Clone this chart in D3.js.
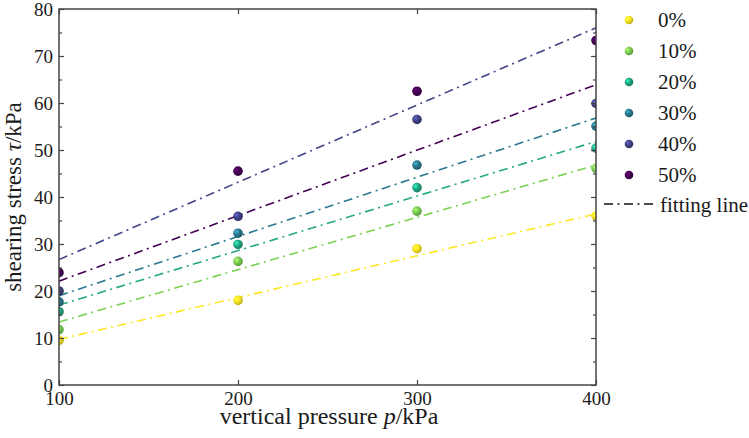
<!DOCTYPE html>
<html><head><meta charset="utf-8">
<script src="https://cdn.jsdelivr.net/npm/d3@7"></script>
<style>body{margin:0;background:#fff}svg{display:block}text{font-family:"Liberation Serif","Times New Roman",serif;fill:#1a1a1a}</style>
</head><body><svg id="c" width="749" height="438"></svg>
<script>
const pressures = [100, 200, 300, 400];
const groups = ["0%", "10%", "20%", "30%", "40%", "50%"];
const colors = ["#fde725", "#7ad151", "#22a884", "#2a788e", "#414487", "#440154"];
const tau0 = [9.5, 18.0, 29.0, 36.0];
const tau10 = [11.8, 26.3, 37.0, 46.1];
const tau20 = [15.6, 29.9, 42.0, 50.4];
const tau30 = [17.7, 32.3, 46.8, 55.1];
const tau40 = [20.0, 35.9, 56.5, 59.9];
const tau50 = [23.9, 45.5, 62.5, 73.3];
const fitAt100 = [9.7, 13.4, 17.0, 19.0, 26.7, 22.1];
const fitAt400 = [36.4, 46.8, 51.8, 56.8, 76.0, 63.9];
const yTicks = [0, 10, 20, 30, 40, 50, 60, 70, 80];
const xTicks = [100, 200, 300, 400];
const series = [tau0, tau10, tau20, tau30, tau40, tau50];

const svg = d3.select("#c");
const L = 59, R = 596, T = 9, B = 385;
const x = d3.scaleLinear().domain([100, 400]).range([L, R]);
const y = d3.scaleLinear().domain([0, 80]).range([B, T]);
const dash = "9,4.5,2,4.5";

const defs = svg.append("defs");
defs.append("clipPath").attr("id", "clip").append("rect")
  .attr("x", L).attr("y", T).attr("width", R - L).attr("height", B - T);
colors.forEach((c, i) => {
  const g = defs.append("radialGradient").attr("id", "g" + i)
    .attr("cx", "35%").attr("cy", "35%").attr("r", "65%");
  g.append("stop").attr("offset", "0%").attr("stop-color", d3.color(c).brighter(1.2));
  g.append("stop").attr("offset", "45%").attr("stop-color", c);
  g.append("stop").attr("offset", "100%").attr("stop-color", d3.color(c).darker(0.8));
});

const plot = svg.append("g").attr("clip-path", "url(#clip)");
groups.forEach((gname, i) => {
  plot.append("line")
    .attr("x1", x(100)).attr("y1", y(fitAt100[i]))
    .attr("x2", x(400)).attr("y2", y(fitAt400[i]))
    .attr("stroke", colors[i]).attr("stroke-width", 1.6)
    .attr("stroke-dasharray", dash);
});
groups.forEach((gname, i) => {
  plot.selectAll(null).data(series[i]).enter().append("circle")
    .attr("cx", (d, j) => x(pressures[j])).attr("cy", d => y(d))
    .attr("r", 4.8).attr("fill", `url(#g${i})`);
});

// axes
const axc = "#444";
const gl = svg.append("g").attr("transform", `translate(${L},0)`)
  .call(d3.axisLeft(y).tickValues(yTicks).tickSize(-5).tickPadding(6).tickFormat(d3.format("d")));
const glm = svg.append("g").attr("transform", `translate(${L},0)`)
  .call(d3.axisLeft(y).tickValues(d3.range(5, 80, 10)).tickSize(-3).tickFormat(""));
const gr = svg.append("g").attr("transform", `translate(${R},0)`)
  .call(d3.axisRight(y).tickValues(yTicks).tickSize(-5).tickFormat(""));
const grm = svg.append("g").attr("transform", `translate(${R},0)`)
  .call(d3.axisRight(y).tickValues(d3.range(5, 80, 10)).tickSize(-3).tickFormat(""));
const gb = svg.append("g").attr("transform", `translate(0,${B})`)
  .call(d3.axisBottom(x).tickValues(xTicks).tickSize(-5).tickPadding(7).tickFormat(d3.format("d")));
const gt = svg.append("g").attr("transform", `translate(0,${T})`)
  .call(d3.axisTop(x).tickValues(xTicks).tickSize(-5).tickFormat(""));
[gl, glm, gr, grm, gb, gt].forEach(g => {
  g.select(".domain").remove();
  g.selectAll("line").attr("stroke", axc).attr("stroke-width", 1.2);
  g.selectAll("text").style("font-size", "19px").attr("fill", "#1a1a1a");
});
svg.append("rect").attr("x", L).attr("y", T).attr("width", R - L).attr("height", B - T)
  .attr("fill", "none").attr("stroke", axc).attr("stroke-width", 1.5);

// axis titles
const xt = svg.append("text").attr("x", 329).attr("y", 423.5)
  .attr("text-anchor", "middle").style("font-size", "24px");
xt.append("tspan").text("vertical pressure ");
xt.append("tspan").attr("font-style", "italic").text("p");
xt.append("tspan").text("/kPa");
const yt = svg.append("text").attr("transform", `translate(21,${(T + B) / 2}) rotate(-90)`)
  .attr("text-anchor", "middle").style("font-size", "23px");
yt.append("tspan").text("shearing stress ");
yt.append("tspan").attr("font-style", "italic").text("τ");
yt.append("tspan").text("/kPa");

// legend
const lg = svg.append("g");
groups.forEach((gname, i) => {
  const yy = 20 + i * 31;
  lg.append("circle").attr("cx", 629).attr("cy", yy).attr("r", 4.3).attr("fill", `url(#g${i})`);
  lg.append("text").attr("x", 658).attr("y", yy + 7).style("font-size", "21px").text(gname);
});
lg.append("line").attr("x1", 604).attr("x2", 654).attr("y1", 204).attr("y2", 204)
  .attr("stroke", "#111").attr("stroke-width", 1.6).attr("stroke-dasharray", dash);
lg.append("text").attr("x", 660).attr("y", 211.5).style("font-size", "21px").text("fitting line");
</script></body></html>
